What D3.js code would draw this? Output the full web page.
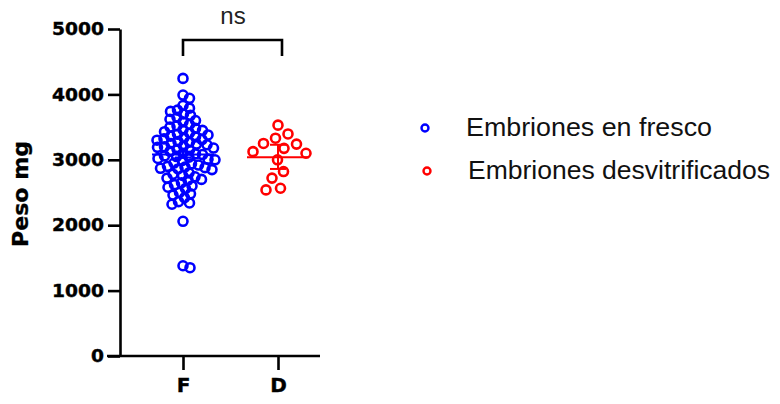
<!DOCTYPE html>
<html>
<head>
<meta charset="utf-8">
<script src="https://cdn.jsdelivr.net/npm/d3@7"></script>
<style>
  body { margin: 0; background: #fff; }
  svg { display: block; font-family: "Liberation Sans", Arial, sans-serif; }
</style>
</head>
<body>
<div id="chart"></div>
<script>
const groups = ['F', 'D']
const fresco = [
  4245, 3990, 3940,
  3830, 3790, 3760, 3740,
  3700, 3680, 3650, 3620, 3600, 3580,
  3540, 3520, 3500, 3480, 3460, 3450, 3430, 3410,
  3390, 3380, 3360, 3350, 3340, 3320, 3310, 3300, 3280, 3270,
  3250, 3240, 3230, 3210, 3200, 3190, 3180, 3160, 3150, 3130,
  3100, 3090, 3080, 3060, 3050, 3040, 3020, 3010, 3000, 2990,
  2950, 2940, 2920, 2900, 2890, 2880, 2870, 2860, 2850,
  2800, 2780, 2760, 2740, 2720, 2700, 2690,
  2650, 2620, 2600, 2580, 2560,
  2500, 2480, 2460, 2420,
  2360, 2340, 2320,
  2060,
  1380, 1350
]
const desvit = [3530, 3395, 3330, 3250, 3240, 3175, 3125, 3100, 3000, 2820, 2720, 2565, 2540]
const means = [3080, 3040]
const errLow = [3035, 2860]
const errHigh = [3125, 3230]
const yTicks = [0, 1000, 2000, 3000, 4000, 5000]
const legendLabels = ['Embriones en fresco', 'Embriones desvitrificados']
const colors = ['#0000ff', '#ff0000']
const sigLabel = 'ns'

const width = 780, height = 404
const boldFont = '"DejaVu Sans", sans-serif'

const svg = d3.select('#chart').append('svg')
  .attr('width', width)
  .attr('height', height)

const y = d3.scaleLinear().domain([0, 5000]).range([356, 29])
const x = d3.scalePoint().domain(groups).range([183, 278])

// simple beeswarm: place each point as close to the centre as it fits
function swarm(values, cx, minDist) {
  const placed = []
  values.map(v => ({ v, y: y(v) }))
    .sort((a, b) => d3.descending(a.v, b.v))
    .forEach(p => {
      for (let k = 0; ; k++) {
        const off = (k % 2 ? 1 : -1) * Math.ceil(k / 2) * 0.5
        if (placed.every(q => Math.hypot(q.x - (cx + off), q.y - p.y) >= minDist)) {
          p.x = cx + off
          break
        }
      }
      placed.push(p)
    })
  return placed
}

// y axis
const yAxis = svg.append('g')
  .attr('transform', 'translate(120,0)')
  .call(d3.axisLeft(y).tickValues(yTicks).tickSize(12).tickSizeOuter(0).tickPadding(4).tickFormat(d3.format('d')))
yAxis.selectAll('path, line').attr('stroke', '#000').attr('stroke-width', 2.6)
yAxis.selectAll('text')
  .attr('fill', '#000')
  .attr('stroke', '#000')
  .attr('stroke-width', 0.4)
  .style('font-family', boldFont)
  .style('font-size', '18px')
  .style('font-weight', 'bold')
  .attr('textLength', d => String(d).length * 13)
  .attr('lengthAdjust', 'spacingAndGlyphs')

// x axis
const xAxis = svg.append('g')
  .attr('transform', 'translate(0,356)')
  .call(d3.axisBottom(x).tickSize(14).tickPadding(8))
xAxis.select('.domain').remove()
xAxis.selectAll('line').attr('stroke', '#000').attr('stroke-width', 2.6)
xAxis.selectAll('text')
  .attr('fill', '#000')
  .attr('stroke', '#000')
  .attr('stroke-width', 0.4)
  .style('font-family', boldFont)
  .style('font-size', '20px')
  .style('font-weight', 'bold')
svg.append('line')
  .attr('x1', 107).attr('x2', 320)
  .attr('y1', y(0)).attr('y2', y(0))
  .attr('stroke', '#000').attr('stroke-width', 2.6)

svg.append('text')
  .attr('transform', 'translate(28,194) rotate(-90)')
  .attr('text-anchor', 'middle')
  .attr('stroke', '#000')
  .attr('stroke-width', 0.3)
  .style('font-family', boldFont)
  .style('font-size', '21px')
  .style('font-weight', 'bold')
  .attr('textLength', 106)
  .attr('lengthAdjust', 'spacingAndGlyphs')
  .text('Peso mg')

// points
const series = [fresco, desvit]
series.forEach((vals, i) => {
  const pts = swarm(vals, x(groups[i]), i === 0 ? 7 : 13)
  svg.append('g').selectAll('circle')
    .data(pts).enter()
    .append('circle')
    .attr('cx', d => d.x)
    .attr('cy', d => d.y)
    .attr('r', 4.5)
    .attr('fill', 'none')
    .attr('stroke', colors[i])
    .attr('stroke-width', 2.6)
})

// mean + error bars
groups.forEach((g, i) => {
  const cx = x(g)
  const s = svg.append('g').attr('stroke', colors[i]).attr('stroke-width', 2)
  s.append('line').attr('x1', cx - 31).attr('x2', cx + 31).attr('y1', y(means[i])).attr('y2', y(means[i]))
  s.append('line').attr('x1', cx).attr('x2', cx).attr('y1', y(errLow[i])).attr('y2', y(errHigh[i]))
  s.append('line').attr('x1', cx - 8).attr('x2', cx + 8).attr('y1', y(errLow[i])).attr('y2', y(errLow[i]))
  s.append('line').attr('x1', cx - 8).attr('x2', cx + 8).attr('y1', y(errHigh[i])).attr('y2', y(errHigh[i]))
})

// significance bracket
svg.append('path')
  .attr('d', `M${x('F')},56V40H${x('D') + 4}V56`)
  .attr('fill', 'none')
  .attr('stroke', '#000')
  .attr('stroke-width', 2.6)
svg.append('text')
  .attr('x', 233).attr('y', 24)
  .attr('text-anchor', 'middle')
  .style('font-size', '24px')
  .attr('fill', '#222')
  .text(sigLabel)

// legend
const legend = svg.append('g')
legendLabels.forEach((lab, i) => {
  const ly = 128 + i * 43
  legend.append('circle')
    .attr('cx', 425 + i * 2).attr('cy', ly)
    .attr('r', 3.5)
    .attr('fill', 'none')
    .attr('stroke', colors[i])
    .attr('stroke-width', 2.4)
  legend.append('text')
    .attr('x', 466 + i * 2).attr('y', ly + 8)
    .style('font-size', '26px')
    .attr('fill', '#111')
    .attr('textLength', i === 0 ? 246 : 302)
    .attr('lengthAdjust', 'spacingAndGlyphs')
    .text(lab)
})
</script>
</body>
</html>
